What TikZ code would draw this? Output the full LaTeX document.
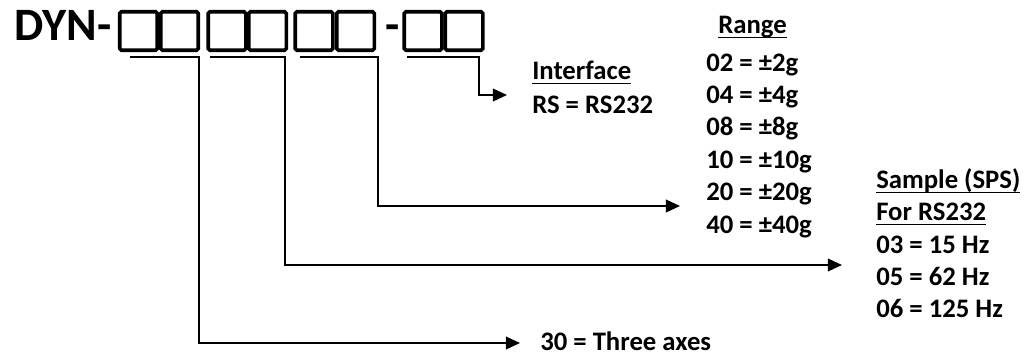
\documentclass[tikz,border=0pt]{standalone}
\usepackage{fontspec}
\setmainfont{Carlito}
\usetikzlibrary{arrows.meta}
\newcommand{\ulbar}[1]{\setbox0=\hbox{#1}\rlap{\rule[-3.8pt]{\wd0}{1.3pt}}\box0}
\tikzset{
	digit/.style={draw, line width=2.5pt, rounded corners=1.2pt, minimum width=0.9375cm, minimum height=0.9625cm, inner sep=0pt},
	codehead/.style={anchor=base west, inner sep=0pt, font=\fontsize{33}{38}\selectfont\bfseries},
	optline/.style={anchor=base west, inner sep=0pt, font=\fontsize{19}{23}\selectfont\bfseries},
	conn/.style={line width=1.1pt, -{Triangle[length=10pt,width=9pt]}},
}
\begin{document}
\begin{tikzpicture}[x=0.025cm, y=-0.025cm]
		\useasboundingbox (0,0) rectangle (1025,356);
		%Model code
		\node[codehead] (dyn) at (14,40) {DYN-};
		\foreach \n/\x in {1/138.5,2/179.5,3/227,4/267.5,5/314,6/355.5,7/423,8/464} {
			\node[digit] (b\n) at (\x,31) {};
		}
		\node[codehead] (dash) at (385,40) {-};
		%Brackets under each pair of boxes
		\coordinate (s1) at (130,57);
		\coordinate (c1) at (199,57);
		\coordinate (s2) at (210,57);
		\coordinate (c2) at (285,57);
		\coordinate (s3) at (300,57);
		\coordinate (c3) at (378,57);
		\coordinate (s4) at (407,57);
		\coordinate (c4) at (479,57);
		%Arrow tips
		\coordinate (e1) at (520,343);
		\coordinate (e2) at (842,265);
		\coordinate (e3) at (680,206);
		\coordinate (e4) at (507,95);
		\draw[conn] (s1) -- (c1) |- (e1);
		\draw[conn] (s2) -- (c2) |- (e2);
		\draw[conn] (s3) -- (c3) |- (e3);
		\draw[conn] (s4) -- (c4) |- (e4);
		%Interface
		\node[optline] (ifhead) at (532,79) {\ulbar{Interface}};
		\node[optline] (ifrs) at (532,113) {RS = RS232};
		%Range
		\node[optline] (rghead) at (718,33) {\ulbar{Range}};
		\foreach \t [count=\i from 0] in {02 = ±2g, 04 = ±4g, 08 = ±8g, 10 = ±10g, 20 = ±20g, 40 = ±40g} {
			\node[optline] (rg\i) at (706,{71+32.4*\i}) {\t};
		}
		%Sample rate
		\node[optline] (smhead) at (876,188) {\ulbar{Sample (SPS)}};
		\node[optline] (smsub) at (876,220) {\ulbar{For RS232}};
		\foreach \t [count=\i from 0] in {03 = 15 Hz, 05 = 62 Hz, 06 = 125 Hz} {
			\node[optline] (sm\i) at (876,{253+32.2*\i}) {\t};
		}
		%Axes
		\node[optline] (axes) at (540,350) {30 = Three axes};
\end{tikzpicture}
\end{document}
